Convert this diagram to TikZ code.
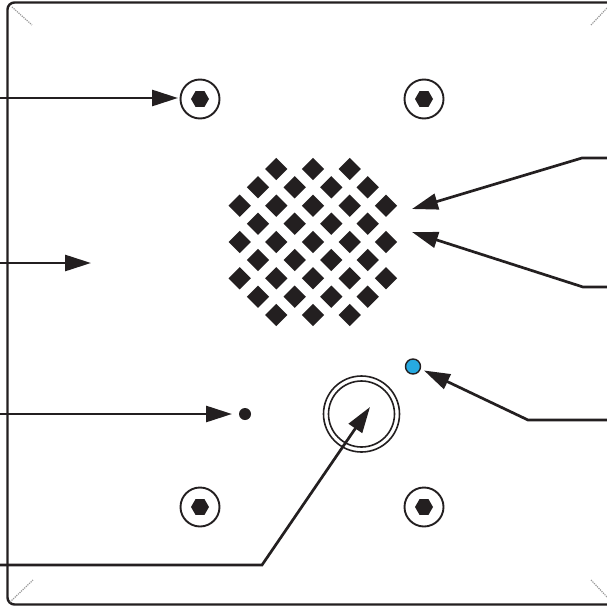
\documentclass[tikz,border=0pt]{standalone}
\usetikzlibrary{arrows.meta,shapes.geometric}
\definecolor{ink}{HTML}{231F20}
\definecolor{ledblue}{HTML}{27AAE1}
\tikzset{
  leader/.style={draw=ink,line width=2.7pt,-{Triangle[length=26pt,width=16pt]}},
  outline/.style={draw=ink,line width=2.4pt,rounded corners=7pt},
  tick/.style={draw=black!40,line width=1.2pt,densely dotted},
  screw/.style={circle,draw=ink,line width=1.9pt,fill=white,minimum size=39pt,inner sep=0pt},
  hexa/.style={regular polygon,regular polygon sides=6,shape border rotate=0,fill=ink,minimum size=18pt,inner sep=0pt},
  hole/.style={diamond,fill=ink,minimum width=22.5pt,minimum height=22.5pt,inner sep=0pt},
}
\begin{document}
\begin{tikzpicture}[x=1pt,y=-1pt]
\useasboundingbox (0,0) rectangle (607,607);
\clip (0,0) rectangle (607,607);
\fill[white] (0,0) rectangle (607,607);
\draw[outline] (625,2.5) -- (7.5,2.5) -- (7.5,604.5) -- (625,604.5);
\draw[tick] (12,7) -- (32,25);
\draw[tick] (10,602) -- (33,580);
\draw[tick] (591,25) -- (607,8);
\draw[tick] (591,580) -- (607,597);
\foreach \n/\x/\y in {a/200/99,b/424/99,c/200/507,d/424/507}{
  \node[screw] (screw\n) at (\x,\y) {};
  \node[hexa] (hex\n) at (\x,\y) {};
}
\foreach \y/\xs in {169/{276.3,313,349.7},
 187.3/{258,294.7,331.3,367.7},
 205.7/{239.7,276.3,313,349.7,386},
 223.7/{258,294.7,331.3,367.7},
 242/{239.7,276.3,313,349.7,386},
 260/{258,294.7,331.3,367.7},
 278.3/{239.7,276.3,313,349.7,386},
 296.7/{258,294.7,331.3,367.7},
 315/{276.3,313,349.7}}{
  \foreach \x in \xs { \node[hole] at (\x,\y) {}; }
}
\node[circle,draw=ink,line width=1.6pt,minimum size=76pt,inner sep=0pt] (bezel) at (361.5,414) {};
\node[circle,draw=ink,line width=1.6pt,minimum size=66pt,inner sep=0pt] (button) at (361.5,414) {};
\node[circle,draw=ink,line width=1.4pt,fill=ledblue,minimum size=15pt,inner sep=0pt] (led) at (413,366.5) {};
\node[circle,fill=ink,minimum size=12pt,inner sep=0pt] (dot) at (245,414) {};
\coordinate (s1) at (-2,98);
\coordinate (e1) at (178,98);
\coordinate (s2) at (-2,263);
\coordinate (e2) at (91,263);
\coordinate (s3) at (-2,414);
\coordinate (e3) at (232,414);
\coordinate (s4) at (-2,565);
\coordinate (k4) at (262,565);
\coordinate (e4) at (370,407);
\coordinate (s5) at (609,158);
\coordinate (k5) at (582,158);
\coordinate (e5) at (412,209);
\coordinate (s6) at (609,287);
\coordinate (k6) at (583,287);
\coordinate (e6) at (412,232);
\coordinate (s7) at (609,420);
\coordinate (k7) at (528,420);
\coordinate (e7) at (424,370.5);
\draw[leader] (s1) -- (e1);
\draw[leader] (s2) -- (e2);
\draw[leader] (s3) -- (e3);
\draw[leader] (s4) -- (k4) -- (e4);
\draw[leader] (s5) -- (k5) -- (e5);
\draw[leader] (s6) -- (k6) -- (e6);
\draw[leader] (s7) -- (k7) -- (e7);
\end{tikzpicture}
\end{document}
